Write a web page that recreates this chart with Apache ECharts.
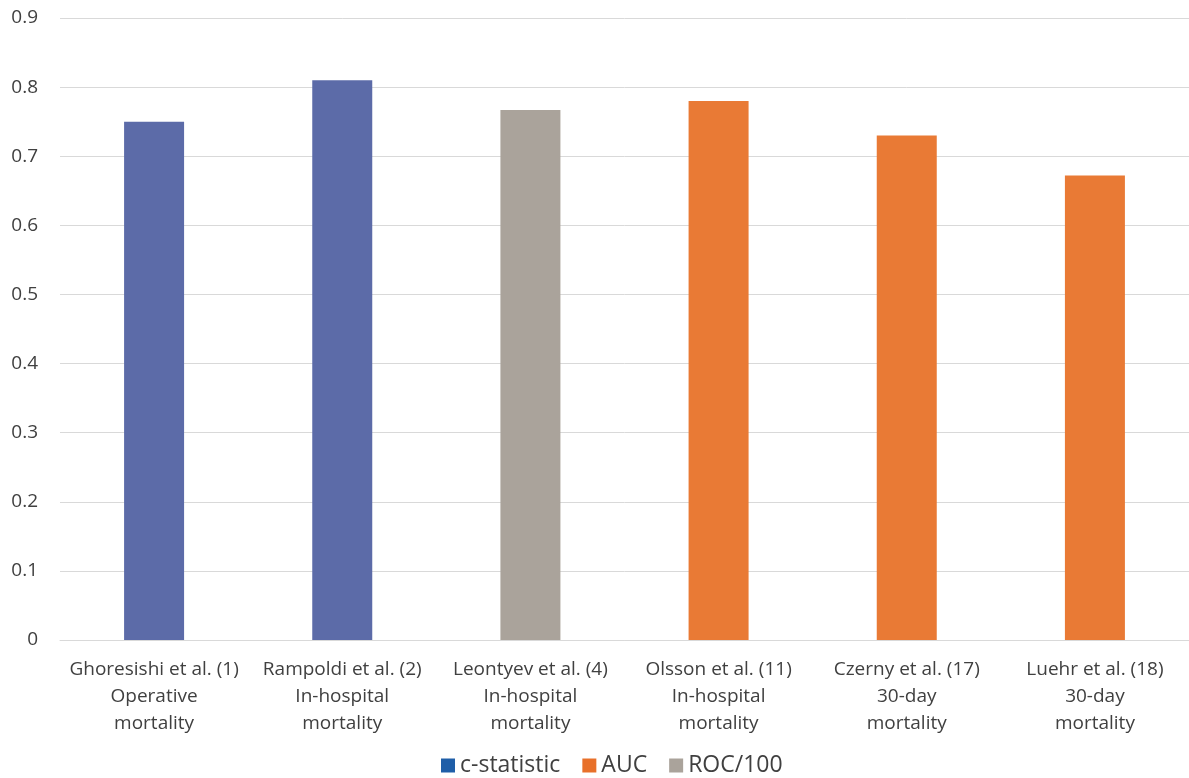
<!DOCTYPE html>
<html>
<head>
<meta charset="utf-8">
<script src="https://cdn.jsdelivr.net/npm/echarts@6/dist/echarts.min.js"></script>
<style>
html,body{margin:0;padding:0;background:#fff;}
#chart{width:1189px;height:778px;}
</style>
</head>
<body>
<div id="chart"></div>
<script>
const categories = [
  "Ghoresishi et al. (1)\nOperative\nmortality",
  "Rampoldi et al. (2)\nIn-hospital\nmortality",
  "Leontyev et al. (4)\nIn-hospital\nmortality",
  "Olsson et al. (11)\nIn-hospital\nmortality",
  "Czerny et al. (17)\n30-day\nmortality",
  "Luehr et al. (18)\n30-day\nmortality"
];
const cStatistic = [0.75, 0.81, null, null, null, null];
const auc = [null, null, null, 0.78, 0.73, 0.672];
const roc100 = [null, null, 0.767, null, null, null];
const yTicks = [0, 0.1, 0.2, 0.3, 0.4, 0.5, 0.6, 0.7, 0.8, 0.9];

const FONT = 'Open Sans';
const chart = echarts.init(document.getElementById('chart'));
function mk(name, vals, legendColor, barColor) {
  return {
    name: name,
    type: 'bar',
    barWidth: 60,
    barGap: '-100%',
    itemStyle: { color: legendColor },
    data: vals.map(v => v == null ? '-' : { value: v, itemStyle: { color: barColor } })
  };
}
chart.setOption({
  backgroundColor: '#fff',
  animation: false,
  textStyle: { fontFamily: FONT },
  grid: { left: 60, right: -6, top: 18, bottom: 138 },
  legend: {
    bottom: -4,
    left: 436,
    itemWidth: 14,
    itemHeight: 14,
    itemGap: 22,
    icon: 'rect',
    textStyle: { fontFamily: FONT, fontSize: 23, color: '#404040' },
    data: ['c-statistic', 'AUC', 'ROC/100']
  },
  xAxis: {
    type: 'category',
    data: categories,
    axisLine: { show: true, lineStyle: { color: '#d9d9d9' } },
    axisTick: { show: false },
    axisLabel: { fontFamily: FONT, fontSize: 19, color: '#404040', lineHeight: 27, margin: 16, interval: 0 }
  },
  yAxis: {
    type: 'value',
    min: 0,
    max: 0.9,
    interval: 0.1,
    axisLine: { show: false },
    axisTick: { show: false },
    splitLine: { lineStyle: { color: '#d9d9d9' } },
    axisLabel: {
      fontFamily: FONT, fontSize: 19, color: '#404040', margin: 22,
      formatter: v => { const t = yTicks.find(x => Math.abs(x - v) < 1e-9); return t === 0 ? '0' : String(+(t ?? v).toFixed(1)); }
    }
  },
  series: [
    mk('c-statistic', cStatistic, '#1f5ea8', '#5c6ba8'),
    mk('AUC', auc, '#e8702a', '#e97a35'),
    mk('ROC/100', roc100, '#aaa39b', '#aaa39b')
  ]
});
</script>
</body>
</html>
